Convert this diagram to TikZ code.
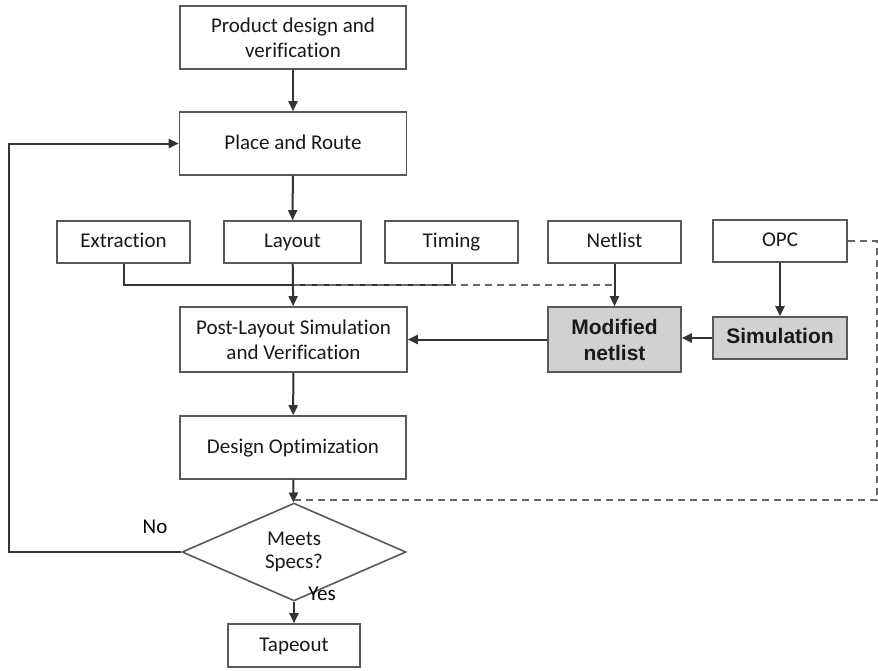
\documentclass[tikz,border=0pt]{standalone}
\usepackage{fontspec}
\setmainfont{Carlito}[Ligatures=CommonOff]
\newfontfamily\headfont{Liberation Sans}
\usetikzlibrary{shapes.geometric,arrows.meta}

\begin{document}
\begin{tikzpicture}[x=1pt,y=-1pt,
    box/.style={draw=black!65,line width=1.6pt,fill=white,inner sep=0pt,
      align=center,text=black!90,font=\fontsize{21}{25}\selectfont},
    one/.style={text height=16pt,text depth=5pt},
    hot/.style={box,fill=black!18,font=\headfont\bfseries\fontsize{21}{26}\selectfont},
    flow/.style={draw=black!80,line width=2pt,-{Triangle[length=10pt,width=9pt]}},
    link/.style={draw=black!80,line width=2pt},
    dash link/.style={draw=black!60,line width=2pt,dash pattern=on 7pt off 5pt}]
  \useasboundingbox (0,0) rectangle (878,670);

  % Main column
  \node[box,minimum width=226pt,minimum height=63pt] (prod) at (293,37.5)
    {Product design and\\verification};
  \node[box,one,minimum width=227pt,minimum height=63pt] (place) at (293,143.5)
    {Place and Route};
  \node[box,minimum width=227pt,minimum height=65pt] (post) at (293.5,339.5)
    {Post-Layout Simulation\\and Verification};
  \node[box,one,minimum width=226pt,minimum height=63pt] (opt) at (293,447.5)
    {Design Optimization};
  \node[box,shape=diamond,minimum width=224pt,minimum height=60pt,
    font=\fontsize{21}{23}\selectfont] (meets) at (294,552) {Meets\\Specs?};
  \node[box,one,minimum width=132pt,minimum height=43pt] (tape) at (294,645.5)
    {Tapeout};

  % Row of inputs
  \node[box,one,minimum width=133pt,minimum height=42pt] (extr) at (123.5,242) {Extraction};
  \node[box,one,minimum width=137pt,minimum height=42pt] (layout) at (292.5,242) {Layout};
  \node[box,one,minimum width=133pt,minimum height=42pt] (timing) at (451.5,242) {Timing};
  \node[box,one,minimum width=133pt,minimum height=42pt] (netlist) at (614.5,242) {Netlist};
  \node[box,one,minimum width=134pt,minimum height=42pt] (opc) at (780,241) {OPC};

  % Shaded boxes
  \node[hot,minimum width=133pt,minimum height=65pt] (modnet) at (614.5,339.5)
    {Modified\\netlist};
  \node[hot,one,minimum width=134pt,minimum height=42pt] (sim) at (780,338)
    {Simulation};

  % Branch labels
  \node[font=\fontsize{21}{25}\selectfont] (no) at (155,527) {No};
  \node[font=\fontsize{21}{25}\selectfont] (yes) at (322,594) {Yes};

  % Helper points
  \coordinate (bus) at (0,285);
  \coordinate (rim) at (877,500);
  \coordinate (back) at (9,552);

  % Connectors
  \draw[flow] (prod) -- (place);
  \draw[flow] (place) -- (layout);
  \draw[link] (extr.south) -- (extr.south |- bus) -- (timing.south |- bus) -- (timing.south);
  \draw[dash link] (layout.south |- bus) -- (netlist.south |- bus);
  \draw[flow] (layout) -- (post);
  \draw[flow] (netlist) -- (modnet);
  \draw[flow] (opc) -- (sim);
  \draw[flow] (sim.west) -- (modnet.east |- sim.west);
  \draw[flow] (modnet) -- (post);
  \draw[flow] (post) -- (opt);
  \draw[flow] (opt) -- (meets);
  \draw[dash link] (opc.east) -| (rim) -- (opt.south |- rim);
  \draw[flow] (meets.west) -- (meets.west -| back) |- (place.west);
  \draw[flow] (meets) -- (tape);
\end{tikzpicture}
\end{document}
